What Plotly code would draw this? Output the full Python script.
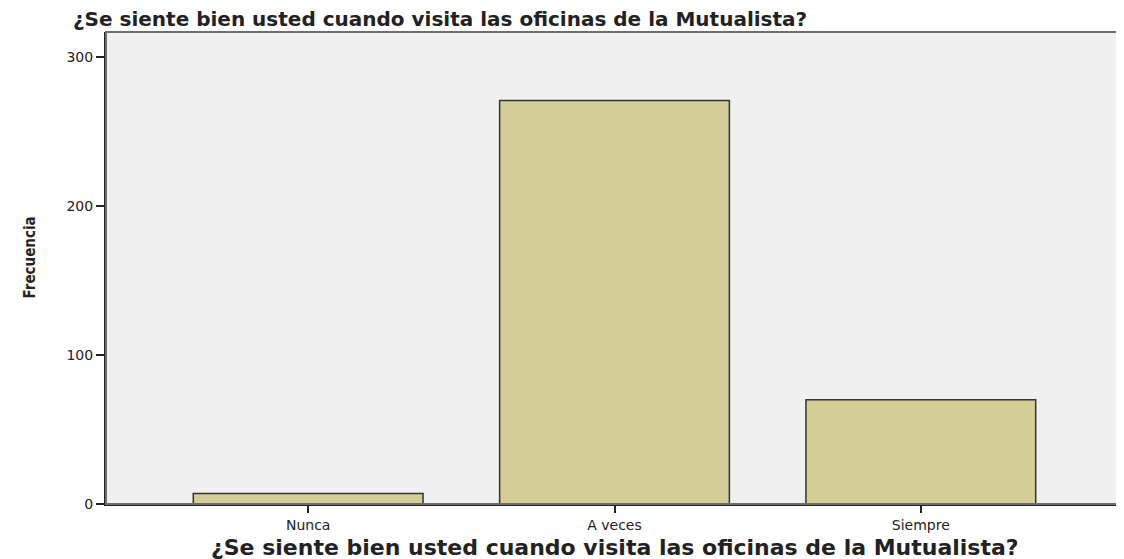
import plotly.graph_objects as go

categorias = ["Nunca", "A veces", "Siempre"]
frecuencias = [7, 271, 70]
y_ticks = [0, 100, 200, 300]

TITULO = "¿Se siente bien usted cuando visita las oficinas de la Mutualista?"
BAR_FILL = "#D3CE97"
TEXT = "#222222"

# la página tiene 8px de margen en el body: el lienzo se reduce en consecuencia
W, H = 1116, 551

fig = go.Figure()
fig.add_trace(go.Bar(
    x=categorias, y=frecuencias,
    marker=dict(color=BAR_FILL, line=dict(color="#333333", width=1.5)),
    width=0.75,
))

# marco del área de gráfico (arriba/derecha en gris)
fig.add_shape(type="rect", xref="paper", yref="paper", x0=0, x1=1, y0=0, y1=1,
              line=dict(color="#6E6E6E", width=2), layer="above")

fig.update_layout(
    width=W, height=H,
    margin=dict(l=98, r=1, t=24, b=55),
    plot_bgcolor="#F0F0F0",
    paper_bgcolor="white",
    showlegend=False,
    font=dict(family="DejaVu Sans", color=TEXT),
    title=dict(text="<b>" + TITULO + "</b>", font=dict(size=20, color=TEXT),
               x=65/W, xanchor="left", xref="container",
               y=1 - 11/H, yanchor="middle", yref="container"),
    xaxis=dict(
        range=[-0.66, 2.66], showgrid=False, zeroline=False,
        showline=True, linecolor="#222222", linewidth=2,
        ticks="outside", ticklen=7, tickwidth=1.5, tickcolor="#222222",
        tickfont=dict(size=14, color=TEXT),
    ),
    yaxis=dict(
        range=[0, 317], tickvals=y_ticks, showgrid=False, zeroline=False,
        showline=True, linecolor="#222222", linewidth=2,
        ticks="outside", ticklen=8, tickwidth=1.5, tickcolor="#222222",
        tickfont=dict(size=14, color=TEXT),
    ),
    annotations=[
        dict(text="<b>" + TITULO + "</b>", xref="paper", yref="paper", x=0.5, y=0,
             yshift=-43, yanchor="middle", showarrow=False,
             font=dict(size=22, color=TEXT)),
        dict(text="<b>Frecuencia</b>", xref="paper", yref="paper", x=0, y=0.5,
             xshift=-87.5, yshift=10, textangle=-90, showarrow=False,
             font=dict(size=15, family="Liberation Sans Narrow, DejaVu Sans Condensed",
                       color=TEXT)),
    ],
)

fig.write_html("out.html")
